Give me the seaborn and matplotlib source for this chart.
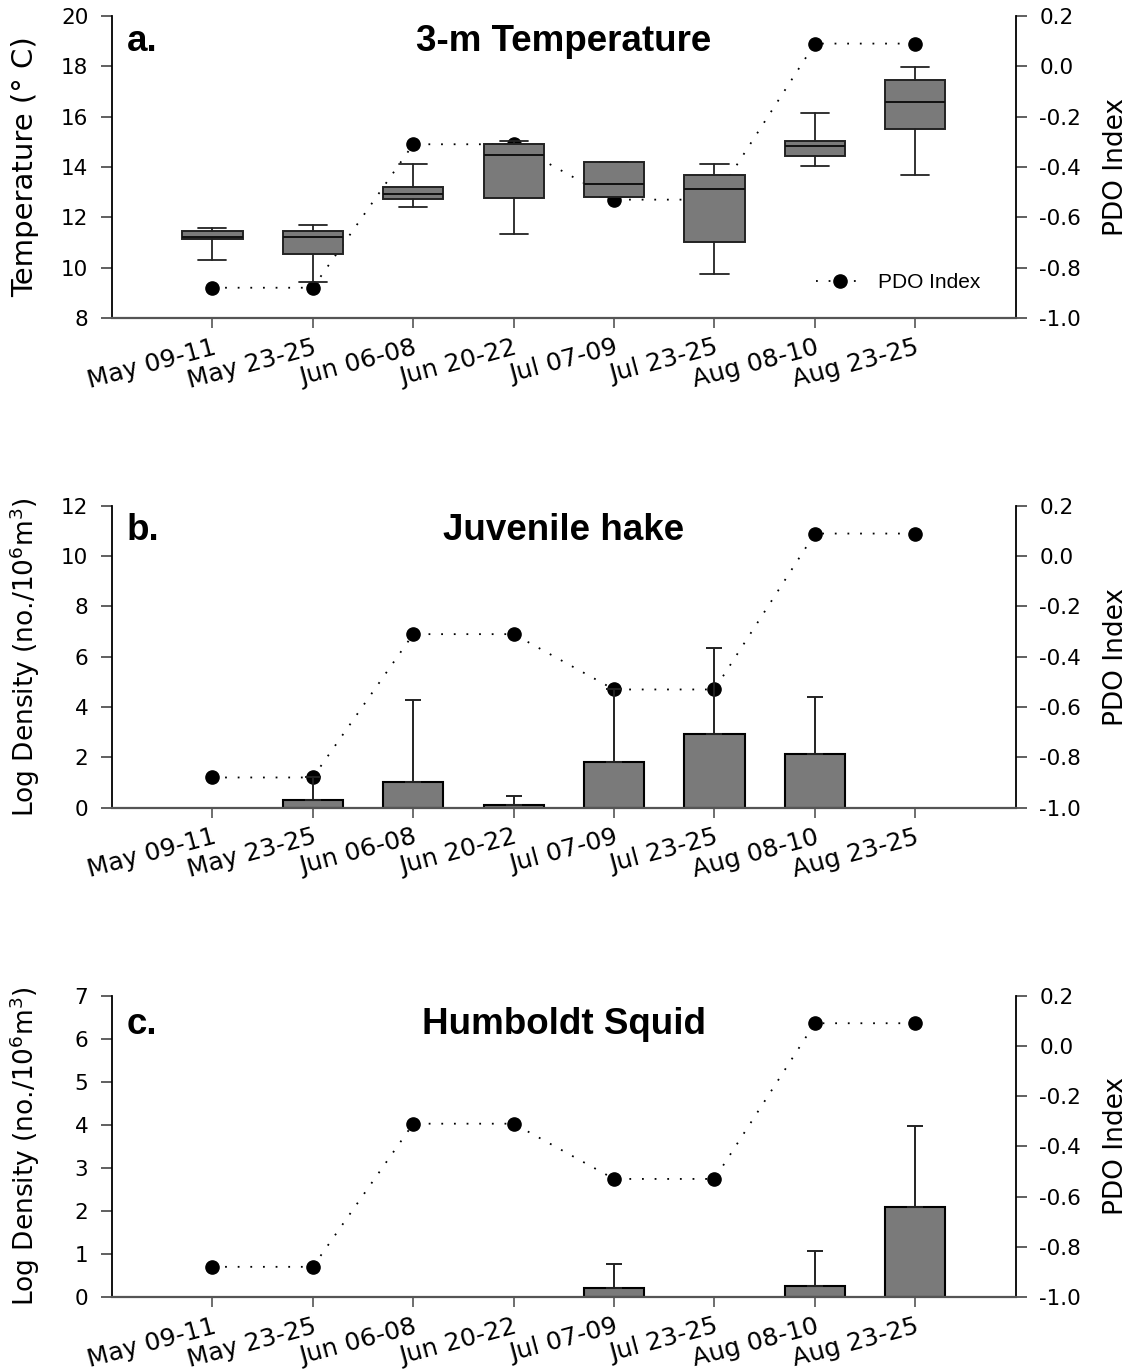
import numpy as np
import pandas as pd
import matplotlib
matplotlib.use("Agg")
import matplotlib.pyplot as plt
import seaborn as sns

# ---------------- data ----------------
categories = ["May 09-11", "May 23-25", "Jun 06-08", "Jun 20-22",
              "Jul 07-09", "Jul 23-25", "Aug 08-10", "Aug 23-25"]
pdo_index = [-0.88, -0.88, -0.31, -0.31, -0.53, -0.53, 0.09, 0.09]

# 3-m temperature box statistics
temp_whislo = [10.32, 9.42, 12.40, 11.34, 12.81, 9.75, 14.04, 13.67]
temp_q1     = [11.15, 10.55, 12.72, 12.78, 12.81, 11.01, 14.44, 15.51]
temp_med    = [11.22, 11.22, 12.94, 14.46, 13.31, 13.11, 14.83, 16.57]
temp_q3     = [11.44, 11.44, 13.22, 14.90, 14.21, 13.67, 15.03, 17.46]
temp_whishi = [11.56, 11.69, 14.13, 15.04, 14.21, 14.13, 16.16, 17.96]

# Juvenile hake log density: mean and upper error
hake_mean = [0.0, 0.29, 1.03, 0.12, 1.81, 2.93, 2.15, 0.0]
hake_upper = [0.0, 1.22, 4.28, 0.47, 4.71, 6.33, 4.40, 0.0]

# Humboldt squid log density: mean and upper error
squid_mean = [0.0, 0.0, 0.0, 0.0, 0.20, 0.0, 0.25, 2.10]
squid_upper = [0.0, 0.0, 0.0, 0.0, 0.77, 0.0, 1.07, 3.98]

# ---------------- style ----------------
sns.set_theme(style="ticks")
plt.rcParams["font.family"] = ["DejaVu Sans"]
plt.rcParams["mathtext.fontset"] = "dejavusans"
for k in ["text.color", "axes.labelcolor", "xtick.labelcolor",
          "ytick.labelcolor"]:
    plt.rcParams[k] = "black"

GRAY = "#7a7a7a"
XTICKFS = 18
YTICKFS = 15.5
LABFS = 19
TITLEFS = 26.5
TITLEFONT = ["Liberation Sans", "DejaVu Sans"]

fig = plt.figure(figsize=(11.35, 13.71), dpi=100)
left, width = 0.0987, 0.7962
rects = [(left, 0.7681, width, 0.2203),
         (left, 0.4109, width, 0.2201),
         (left, 0.0540, width, 0.2198)]

pos = np.arange(len(categories))


def style_axes(ax, ax2, ylim, yticks, ylabel, labfs=LABFS, labx=-0.0775):
    ax.set_xlim(-1, 8)
    ax.set_ylim(*ylim)
    ax.set_yticks(yticks)
    ax.set_xticks(pos)
    ax.set_xticklabels(categories, rotation=15, ha="right",
                       rotation_mode="anchor", fontsize=XTICKFS)
    ax.tick_params(axis="y", labelsize=YTICKFS, length=8, width=1.2,
                   pad=9, color="#444444", direction="out")
    ax.tick_params(axis="x", length=7, width=1.2, pad=5.5, color="#555555",
                   direction="out")
    ax.set_ylabel(ylabel, fontsize=labfs)
    ax.yaxis.set_label_coords(labx, 0.5)
    ax.set_xlabel("")
    ax.spines["left"].set_linewidth(1.3)
    ax.spines["left"].set_color("black")
    ax.spines["bottom"].set_linewidth(1.6)
    ax.spines["bottom"].set_color("#555555")
    ax.spines["top"].set_visible(False)
    ax.spines["right"].set_visible(False)

    ax2.set_ylim(-1.0, 0.2)
    ax2.set_yticks([-1.0, -0.8, -0.6, -0.4, -0.2, 0.0, 0.2])
    ax2.set_yticklabels(["-1.0", "-0.8", "-0.6", "-0.4", "-0.2", "0.0", "0.2"])
    ax2.tick_params(axis="y", labelsize=YTICKFS, length=8, width=1.2,
                    pad=9, color="#444444", direction="out")
    ax2.set_ylabel("PDO Index", fontsize=LABFS)
    ax2.yaxis.set_label_coords(1.0966, 0.5)
    for s in ["top", "left", "bottom"]:
        ax2.spines[s].set_visible(False)
    ax2.spines["right"].set_linewidth(1.3)
    ax2.spines["right"].set_color("black")
    ax2.set_xlim(-1, 8)


def draw_pdo(ax2):
    line, = ax2.plot(pos, pdo_index, color="black", linestyle=(0, (1, 6)),
                     linewidth=1.3, marker="o", markersize=9.5,
                     markerfacecolor="black", markeredgecolor="black",
                     label="PDO Index")
    return line


def panel_text(ax, letter, title, ytitle):
    ax.text(0.016, ytitle, letter, transform=ax.transAxes, fontsize=TITLEFS,
            fontweight="bold", ha="left", va="center", family=TITLEFONT)
    ax.text(0.5, ytitle, title, transform=ax.transAxes, fontsize=TITLEFS,
            fontweight="bold", ha="center", va="center", family=TITLEFONT)


# ---------------- panel a ----------------
axa = fig.add_axes(rects[0])
axa2 = axa.twinx()
line_a = draw_pdo(axa2)
stats = []
for i, c in enumerate(categories):
    stats.append(dict(label=c, whislo=temp_whislo[i], q1=temp_q1[i],
                      med=temp_med[i], q3=temp_q3[i], whishi=temp_whishi[i],
                      fliers=[]))
axa.bxp(stats, positions=pos, widths=0.6, capwidths=0.28, patch_artist=True,
        showfliers=False,
        boxprops=dict(facecolor=GRAY, edgecolor="#222222", linewidth=1.4),
        medianprops=dict(color="#111111", linewidth=1.4),
        whiskerprops=dict(color="#222222", linewidth=1.3),
        capprops=dict(color="#222222", linewidth=1.3))
style_axes(axa, axa2, (8, 20), [8, 10, 12, 14, 16, 18, 20],
           "Temperature (° C)", labfs=21, labx=-0.081)
axa.set_zorder(axa2.get_zorder() + 1)
axa.patch.set_visible(False)
panel_text(axa, "a.", "3-m Temperature", 0.915)
leg = axa.legend(handles=[line_a], loc="center right",
                 bbox_to_anchor=(0.982, 0.116), frameon=False,
                 prop={"family": TITLEFONT, "size": 15},
                 handlelength=2.3, handletextpad=0.7)

# ---------------- bar panels ----------------
def bar_panel(rect, means, uppers, ylim, yticks, letter, title, ytitle):
    ax = fig.add_axes(rect)
    ax2 = ax.twinx()
    draw_pdo(ax2)
    df = pd.DataFrame({"period": categories, "value": means})
    sns.barplot(data=df, x="period", y="value", order=categories, ax=ax,
                color=GRAY, saturation=1, width=0.6, edgecolor="black",
                linewidth=1.5, errorbar=None)
    for p in ax.patches:
        if p.get_height() == 0:
            p.set_visible(False)
    m = np.array(means)
    u = np.array(uppers)
    has = u > m
    ax.errorbar(pos[has], m[has], yerr=[np.zeros(has.sum()), (u - m)[has]],
                fmt="none", ecolor="#222222", elinewidth=1.4, capsize=6,
                capthick=1.4)
    style_axes(ax, ax2, ylim, yticks,
               "Log Density (no./10$^{6}$m$^{3}$)")
    ax.set_zorder(ax2.get_zorder() + 1)
    ax.patch.set_visible(False)
    panel_text(ax, letter, title, ytitle)
    return ax


bar_panel(rects[1], hake_mean, hake_upper, (0, 12), [0, 2, 4, 6, 8, 10, 12],
          "b.", "Juvenile hake", 0.92)
bar_panel(rects[2], squid_mean, squid_upper, (0, 7), [0, 1, 2, 3, 4, 5, 6, 7],
          "c.", "Humboldt Squid", 0.905)

fig.savefig("out.png", dpi=100)
